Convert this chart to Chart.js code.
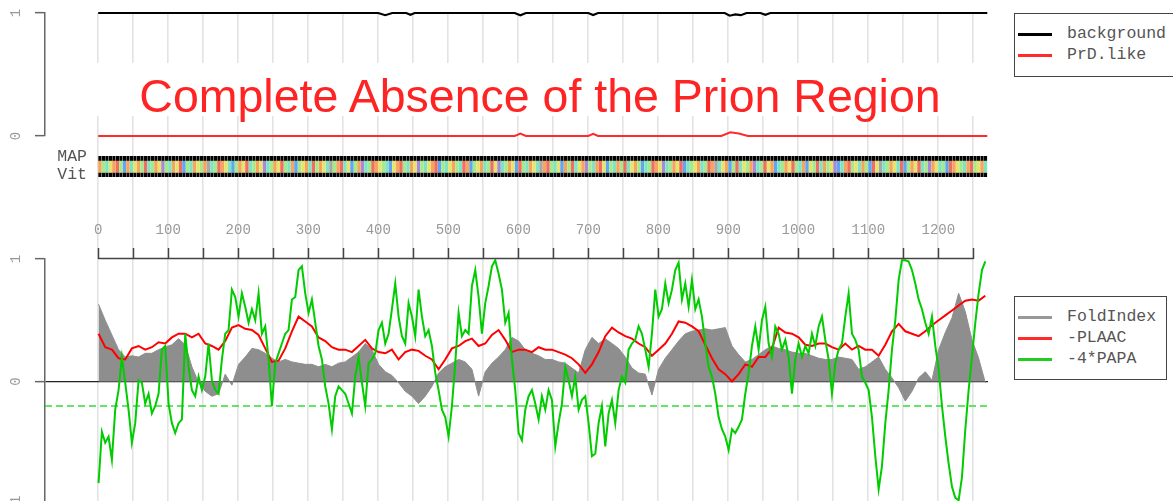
<!DOCTYPE html>
<html>
<head>
<meta charset="utf-8">
<script src="https://cdn.jsdelivr.net/npm/chart.js@4.4.1/dist/chart.umd.min.js"></script>
<style>
  html, body { margin: 0; padding: 0; background: #fff; overflow: hidden; }
  body { width: 1173px; height: 501px; position: relative; }
  canvas { position: absolute; left: 0; }
  .mono { position: absolute; font-family: "Liberation Mono", monospace; font-size: 16.5px; color: #555; white-space: nowrap; }
  .legend { position: absolute; border: 1px solid #444; box-sizing: border-box; background: #fff; }
  .swatch { position: absolute; height: 2.5px; width: 34px; }
</style>
</head>
<body>
<canvas id="gridChart" width="1173" height="505" style="top:0"></canvas>
<div style="position:absolute;left:90px;top:63px;width:900px;height:53px;background:#fff"></div>
<div style="position:absolute;left:40px;top:71px;width:1000px;height:50px;line-height:50px;text-align:center;font-family:'Liberation Sans',Arial,sans-serif;font-size:46.5px;color:#ff2424;white-space:nowrap">Complete Absence of the Prion Region</div>
<canvas id="topChart" width="1173" height="175" style="top:-13px"></canvas>
<canvas id="bandChart" width="1173" height="35" style="top:150px"></canvas>
<canvas id="bottomChart" width="1173" height="326" style="top:200px"></canvas>

<div class="mono" style="right:1086px;top:148px;line-height:18px">MAP</div>
<div class="mono" style="right:1086px;top:166px;line-height:18px">Vit</div>

<div class="legend" style="left:1014px;top:13px;width:180px;height:64px"></div>
<div class="swatch" style="left:1018px;top:33px;background:#000"></div>
<div class="swatch" style="left:1018px;top:54px;background:#ff2a2a"></div>
<div class="mono" style="left:1067px;top:25px;line-height:18px">background</div>
<div class="mono" style="left:1067px;top:46px;line-height:18px">PrD.like</div>

<div class="legend" style="left:1014px;top:296px;width:153px;height:84px"></div>
<div class="swatch" style="left:1018px;top:316px;background:#999"></div>
<div class="swatch" style="left:1018px;top:337px;background:#ff2a2a"></div>
<div class="swatch" style="left:1018px;top:358px;background:#22cc22"></div>
<div class="mono" style="left:1067px;top:308px;line-height:18px">FoldIndex</div>
<div class="mono" style="left:1067px;top:329px;line-height:18px">-PLAAC</div>
<div class="mono" style="left:1067px;top:350px;line-height:18px">-4*PAPA</div>

<script>
// x range of the plot region (residues)
const xMin = -76, xMax = 1271;
const gridTicks = [0, 50, 100, 150, 200, 250, 300, 350, 400, 450, 500, 550, 600, 650,
  700, 750, 800, 850, 900, 950, 1000, 1050, 1100, 1150, 1200, 1250];
const labelTicks = [0, 100, 200, 300, 400, 500, 600, 700, 800, 900, 1000, 1100, 1200];

// top panel
const bgPos = [0, 400, 410, 420, 440, 446, 452, 595, 603, 611, 700, 707, 714, 895, 902, 910, 918, 926, 946, 953, 960, 1270];
const bgVal = [1, 1, 0.982, 1, 1, 0.985, 1, 1, 0.982, 1, 1, 0.984, 1, 1, 0.978, 0.988, 0.982, 1, 1, 0.985, 1, 1];
const prdPos = [0, 595, 603, 611, 700, 707, 714, 890, 903, 915, 928, 1270];
const prdVal = [0, 0, 0.02, 0, 0, 0.018, 0, 0, 0.03, 0.02, 0, 0];

// MAP / Vit colour band, one code per 5 residues
const bandStep = 5;
const bandCodes =
  'ogcyorgboc' + 'yogrcgoypg' + 'coyrbgcoyg' + 'okcgroycbg' + 'oyrcgoypcg' +
  'oyrgcobgyo' + 'crgoyckgor' + 'cybgopcgro' + 'ygcbyorgco' + 'ypgcyorbgc' +
  'yogcrobgyo' + 'cgrypcgoyb' + 'rgcoyckorg' + 'cybogrcyop' + 'gcorybgcog' +
  'rcyogbcgro' + 'ypcgoyrbcg' + 'yocgrokcyo' + 'bgrcygopcg' + 'ryobcgoyrg' +
  'cobygrcogy' + 'pbcorgycog' + 'brykcgoycr' + 'bgoyrcgpoy' + 'cgbroygcor' +
  'gyoc';
const bandPalette = { o: '#f6a55e', y: '#e6e46e', g: '#a6ea8c', c: '#7fe3c4', b: '#63a6ee',
  r: '#ef6f63', p: '#a98ad8', k: '#a8a8a8' };

// bottom panel, read every ~4.76 residues (PAPA) and every ~9.52 residues (FoldIndex, PLAAC)
const sampleStep = 100 / 21;
const foldIndex = [
  0.63, 0.5, 0.38, 0.26, 0.2, 0.21, 0.2, 0.23, 0.23, 0.26, 0.28, 0.3, 0.35, 0.3, 0.12, -0.01,
  -0.08, -0.12, -0.1, 0.06, -0.03, 0.14, 0.2, 0.27, 0.26, 0.23, 0.19, 0.16, 0.18, 0.16, 0.15,
  0.14, 0.14, 0.12, 0.14, 0.12, 0.15, 0.16, 0.2, 0.24, 0.31, 0.26, 0.14, 0.08, 0.05, -0.01,
  -0.08, -0.12, -0.18, -0.12, -0.04, 0.07, 0.12, 0.15, 0.18, 0.16, 0.1, -0.12, 0.08, 0.15,
  0.2, 0.26, 0.36, 0.33, 0.26, 0.23, 0.21, 0.18, 0.18, 0.16, 0.15, 0.11, 0.07, 0.26, 0.36, 0.31,
  0.35, 0.31, 0.27, 0.2, 0.11, 0.07, 0.06, -0.11, 0.1, 0.19, 0.26, 0.33, 0.39, 0.41, 0.42,
  0.43, 0.42, 0.43, 0.44, 0.29, 0.22, 0.16, 0.18, 0.22, 0.26, 0.29, 0.27, 0.26, 0.24, 0.23,
  0.23, 0.21, 0.19, 0.18, 0.18, 0.2, 0.19, 0.18, 0.1, 0.12, 0.16, 0.2, 0.1, 0.03, -0.05,
  -0.16, -0.08, 0.03, 0.08, 0.01, 0.26, 0.4, 0.52, 0.72, 0.57, 0.34, 0.19, -0.01];
const plaac = [
  0.39, 0.28, 0.26, 0.19, 0.18, 0.27, 0.29, 0.26, 0.28, 0.32, 0.31, 0.36, 0.39, 0.39, 0.36,
  0.39, 0.31, 0.29, 0.26, 0.33, 0.44, 0.46, 0.43, 0.42, 0.38, 0.27, 0.16, 0.17, 0.27, 0.41, 0.53,
  0.49, 0.45, 0.36, 0.33, 0.28, 0.26, 0.26, 0.24, 0.29, 0.34, 0.27, 0.24, 0.23, 0.26, 0.18,
  0.24, 0.26, 0.25, 0.21, 0.18, 0.1, 0.18, 0.27, 0.29, 0.33, 0.35, 0.29, 0.31, 0.38, 0.42,
  0.34, 0.24, 0.26, 0.26, 0.24, 0.28, 0.26, 0.26, 0.24, 0.22, 0.19, 0.14, 0.07, 0.14, 0.24,
  0.37, 0.44, 0.4, 0.37, 0.35, 0.31, 0.28, 0.21, 0.26, 0.31, 0.39, 0.49, 0.48, 0.45, 0.41,
  0.3, 0.19, 0.1, 0.06, 0, 0.06, 0.14, 0.12, 0.2, 0.2, 0.27, 0.44, 0.4, 0.39, 0.36,
  0.3, 0.29, 0.31, 0.31, 0.28, 0.26, 0.31, 0.26, 0.29, 0.26, 0.26, 0.21, 0.3, 0.41, 0.47,
  0.41, 0.39, 0.37, 0.41, 0.46, 0.5, 0.54, 0.58, 0.62, 0.66, 0.67, 0.66, 0.7];
const papa = [
  -0.83, -0.41, -0.5, -0.45, -0.64, -0.23, -0.07, 0.2, -0.01, -0.23,
  -0.5, -0.34, 0.01, -0.01, -0.18, -0.1, -0.26, -0.2, -0.1, 0.26,
  0.29, -0.18, -0.34, -0.42, -0.34, -0.31, 0.39, 0.12, -0.07, -0.12,
  0.04, -0.07, 0.04, 0.31, 0.01, -0.07, -0.1, 0.18, 0.39, 0.42,
  0.75, 0.69, 0.53, 0.72, 0.61, 0.48, 0.59, 0.5, 0.72, 0.39,
  0.45, 0.18, -0.2, 0.15, 0.23, 0.31, 0.39, 0.42, 0.67, 0.69, 0.91,
  0.94, 0.72, 0.56, 0.67, 0.48, 0.29, 0.18, -0.04, -0.18, -0.39,
  -0.12, -0.04, -0.07, -0.1, -0.18, -0.26, 0.04, 0.2, -0.01, -0.2,
  0.15, 0.18, 0.23, 0.42, 0.48, 0.31, 0.39, 0.59, 0.8, 0.53,
  0.37, 0.31, 0.64, 0.53, 0.37, 0.75, 0.53, 0.37, 0.42, 0.29,
  0.07, -0.07, -0.23, -0.29, -0.45, -0.2, 0.15, 0.56, 0.37, 0.42,
  0.39, 0.78, 0.91, 0.69, 0.39, 0.64, 0.78, 0.94, 0.99, 0.88,
  0.75, 0.48, 0.56, 0.18, -0.07, -0.42, -0.48, -0.23, -0.12, -0.07,
  -0.18, -0.31, -0.12, -0.23, -0.07, -0.15, -0.53, -0.34, -0.18, 0.12,
  0.01, -0.12, 0.04, -0.23, -0.15, -0.12, -0.34, -0.61, -0.59, -0.34,
  -0.2, -0.53, -0.26, -0.15, -0.34, -0.07, 0.04, -0.01, 0.26, 0.31,
  0.34, 0.45, 0.39, 0.26, 0.12, 0.39, 0.75, 0.53, 0.59, 0.8,
  0.64, 0.75, 0.91, 0.97, 0.67, 0.8, 0.61, 0.83, 0.59, 0.67,
  0.53, 0.31, 0.12, 0.04, -0.1, -0.29, -0.39, -0.45, -0.56, -0.39,
  -0.42, -0.37, -0.31, -0.1, 0.07, 0.29, 0.45, 0.26, 0.5, 0.61,
  0.31, 0.2, 0.45, 0.39, 0.26, 0.34, 0.2, -0.1, 0.18, 0.31,
  0.2, 0.29, 0.23, 0.39, 0.29, 0.45, 0.53, 0.34, 0.18, -0.1,
  0.15, 0.26, 0.31, 0.53, 0.72, 0.39, 0.34, 0.26, 0.04, -0.01,
  -0.07, -0.29, -0.61, -0.88, -0.69, -0.34, -0.07, 0.26, 0.5, 0.83,
  0.99, 0.99, 0.98, 0.91, 0.8, 0.67, 0.59, 0.48, 0.39, 0.53,
  0.29, 0.1, -0.2, -0.45, -0.67, -0.86, -0.95, -0.97, -0.78, -0.39,
  -0.07, 0.2, 0.48, 0.72, 0.91, 0.98];
const papaCut = -0.2;

const monoFont = { family: '"Liberation Mono", "DejaVu Sans Mono", monospace', size: 14 };
const noPlugins = { legend: { display: false }, tooltip: { enabled: false } };

function xHidden() {
  return { type: 'linear', min: xMin, max: xMax, display: false, offset: false };
}

function yAxis(min, max, ticks, pad) {
  return {
    min: min, max: max, position: 'left',
    afterBuildTicks: s => { s.ticks = ticks.map(v => ({ value: v })); },
    afterFit: s => { s.width = 45; },
    grid: {
      drawOnChartArea: true, drawTicks: true, tickLength: 10, tickColor: '#666', tickWidth: 1.5,
      color: c => (c.tick && c.tick.value === 0 && min < 0) ? '#222' : 'rgba(0,0,0,0)', lineWidth: 1.3
    },
    border: { display: true, color: '#666', width: 1.5 },
    ticks: { minRotation: 90, maxRotation: 90, crossAlign: 'center', padding: pad, color: '#999', font: monoFont, autoSkip: false }
  };
}

// light vertical grid behind everything
new Chart(document.getElementById('gridChart'), {
  type: 'line',
  data: { datasets: [] },
  options: {
    responsive: false, animation: false,
    layout: { padding: { left: 45, right: 185, top: 13, bottom: 1 } },
    plugins: noPlugins,
    scales: {
      x: {
        type: 'linear', min: xMin, max: xMax,
        afterBuildTicks: s => { s.ticks = gridTicks.map(v => ({ value: v })); },
        afterFit: s => { s.height = 0; },
        ticks: { display: false },
        grid: { color: '#e3e3e3', lineWidth: 1.6, drawTicks: false },
        border: { display: false }
      },
      y: { display: false, min: 0, max: 1 }
    }
  }
});

// top panel: background and PrD.like
new Chart(document.getElementById('topChart'), {
  type: 'line',
  data: {
    datasets: [
      { label: 'background', data: bgPos.map((x, i) => ({ x, y: bgVal[i] })),
        borderColor: '#000', borderWidth: 2.2, pointRadius: 0, tension: 0, clip: false },
      { label: 'PrD.like', data: prdPos.map((x, i) => ({ x, y: prdVal[i] })),
        borderColor: '#ff2a2a', borderWidth: 2, pointRadius: 0, tension: 0, clip: false }
    ]
  },
  options: {
    responsive: false, animation: false,
    layout: { padding: { left: 0, right: 185, top: 26, bottom: 26 } },
    plugins: noPlugins,
    scales: { x: xHidden(), y: yAxis(0, 1, [0, 1], 15) }
  }
});

// MAP / Vit band
const codes = bandCodes.split('');
new Chart(document.getElementById('bandChart'), {
  type: 'bar',
  data: {
    datasets: [{
      data: codes.map((c, i) => ({ x: bandStep * i + bandStep / 2, y: [0, 1] })),
      backgroundColor: codes.map(c => bandPalette[c]),
      borderColor: '#000',
      borderWidth: { top: 5, bottom: 4.5, left: 0, right: 0 },
      borderSkipped: false,
      categoryPercentage: 1, barPercentage: 1, inflateAmount: 0.35
    }]
  },
  options: {
    responsive: false, animation: false,
    layout: { padding: { left: 45, right: 185, top: 6, bottom: 8 } },
    plugins: noPlugins,
    scales: {
      x: Object.assign(xHidden(), { grid: { offset: false } }),
      y: { display: false, min: 0, max: 1 }
    }
  }
});

// axis line of the top x axis, from first to last tick
const axisLine = {
  id: 'axisLine',
  afterDraw(chart) {
    const { ctx, chartArea, scales: { x } } = chart;
    ctx.save();
    ctx.strokeStyle = '#444';
    ctx.lineWidth = 1.5;
    ctx.beginPath();
    ctx.moveTo(x.getPixelForValue(gridTicks[0]), chartArea.top - 0.5);
    ctx.lineTo(x.getPixelForValue(gridTicks[gridTicks.length - 1]), chartArea.top - 0.5);
    ctx.stroke();
    ctx.restore();
  }
};

// bottom panel: FoldIndex, -PLAAC, -4*PAPA
new Chart(document.getElementById('bottomChart'), {
  type: 'line',
  data: {
    datasets: [
      { label: '-4*PAPA', data: papa.map((y, i) => ({ x: 0.5 + i * sampleStep, y })),
        borderColor: '#00cc00', borderWidth: 2, pointRadius: 0, tension: 0, order: 0 },
      { label: '-PLAAC', data: plaac.map((y, i) => ({ x: 0.5 + 2 * i * sampleStep, y })),
        borderColor: '#ff0000', borderWidth: 2, pointRadius: 0, tension: 0, order: 1 },
      { label: 'cutoff', data: [{ x: xMin, y: papaCut }, { x: xMax, y: papaCut }],
        borderColor: '#33dd33', borderWidth: 1.4, borderDash: [7, 4], pointRadius: 0, order: 2 },
      { label: 'FoldIndex', data: foldIndex.map((y, i) => ({ x: 0.5 + 2 * i * sampleStep, y })),
        borderColor: '#8e8e8e', backgroundColor: '#8e8e8e', borderWidth: 1, fill: 'origin',
        pointRadius: 0, tension: 0, order: 3 }
    ]
  },
  options: {
    responsive: false, animation: false,
    layout: { padding: { left: 0, right: 185, top: 19, bottom: 22 } },
    plugins: noPlugins,
    scales: {
      x: {
        type: 'linear', min: xMin, max: xMax, position: 'top', offset: false,
        afterBuildTicks: s => { s.ticks = gridTicks.map(v => ({ value: v })); },
        afterFit: s => { s.height = 40; },
        grid: { drawOnChartArea: false, drawTicks: true, tickLength: 11, tickColor: '#444', tickWidth: 1.5 },
        border: { display: false },
        ticks: {
          autoSkip: false, maxRotation: 0, padding: 9, color: '#999', font: monoFont,
          callback: v => labelTicks.includes(v) ? String(v) : ''
        }
      },
      y: yAxis(-1, 1, [-1, 0, 1], 10.5)
    }
  },
  plugins: [axisLine]
});
</script>
</body>
</html>
